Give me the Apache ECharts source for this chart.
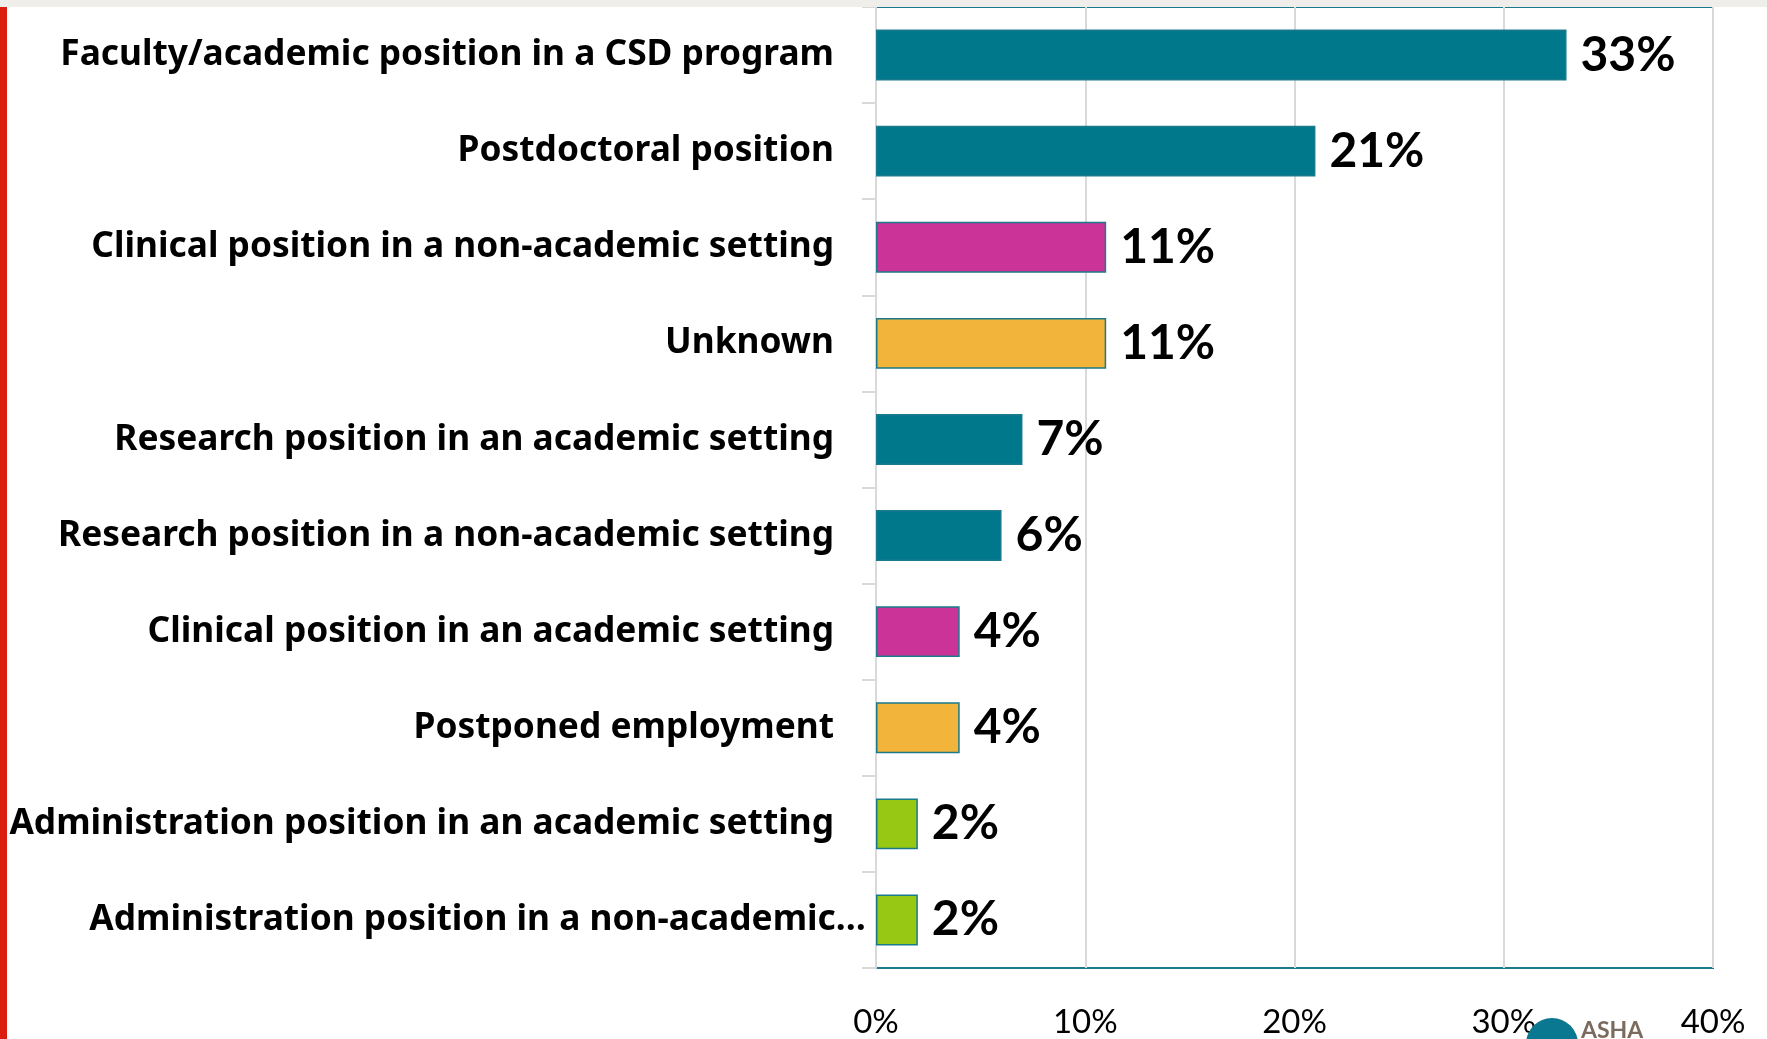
<!DOCTYPE html>
<html>
<head>
<meta charset="utf-8">
<script src="https://cdn.jsdelivr.net/npm/echarts@6/dist/echarts.min.js"></script>
<style>
  html, body { margin: 0; padding: 0; background: #fff; }
  #chart { width: 1767px; height: 1039px; }
</style>
</head>
<body>
<div id="chart"></div>
<script>
// categories, top to bottom
const categories = [
  "Faculty/academic position in a CSD program",
  "Postdoctoral position",
  "Clinical position in a non-academic setting",
  "Unknown",
  "Research position in an academic setting",
  "Research position in a non-academic setting",
  "Clinical position in an academic setting",
  "Postponed employment",
  "Administration position in an academic setting",
  "Administration position in a non-academic\u2026"
];
// percent of respondents
const values = [33, 21, 11, 11, 7, 6, 4, 4, 2, 2];
const xTicks = [0, 10, 20, 30, 40];

// bar fill per row
const teal = "#00788c", pink = "#cc3399", gold = "#f2b43a", green = "#97c813";
const barColors = [teal, teal, pink, gold, teal, teal, pink, gold, green, green];

const chart = echarts.init(document.getElementById("chart"));

// the truncated last label runs a bit past the others in the original
const yData = categories.map((c, i) =>
  i === categories.length - 1
    ? { value: c, textStyle: { padding: [0, -32, 4, 0] } }
    : c
);

const option = {
  backgroundColor: "#fff",
  animation: false,
  grid: {
    left: 876,
    right: 54,
    top: 7,
    bottom: 66,
    show: true,
    borderColor: "#1a7a8c",
    borderWidth: 2,
    backgroundColor: "transparent"
  },
  xAxis: {
    type: "value",
    min: xTicks[0],
    max: xTicks[xTicks.length - 1],
    interval: 10,
    axisLine: { show: false },
    axisTick: { show: false },
    splitLine: { lineStyle: { color: "#d9d9d9", width: 2 } },
    axisLabel: {
      formatter: "{value}%",
      fontFamily: "Lato",
      fontSize: 33,
      color: "#000",
      margin: 38
    }
  },
  yAxis: {
    type: "category",
    inverse: true,
    data: yData,
    axisLine: { show: true, lineStyle: { color: "#d9d9d9", width: 2 } },
    axisTick: { show: true, length: 14, interval: 0, lineStyle: { color: "#d9d9d9", width: 2 } },
    axisLabel: {
      fontFamily: "Noto Sans",
      fontWeight: "bold",
      fontSize: 35.3,
      color: "#000",
      margin: 42,
      padding: [0, 0, 4, 0]
    }
  },
  series: [{
    type: "bar",
    data: values.map((v, i) => ({ value: v, itemStyle: { color: barColors[i] } })),
    barCategoryGap: "47%",
    itemStyle: { borderColor: "#1a7a8c", borderWidth: 1.5 },
    label: {
      show: true,
      position: "right",
      distance: 14,
      formatter: "{c}%",
      fontFamily: "Lato",
      fontWeight: "bold",
      fontSize: 48,
      color: "#000"
    }
  }],
  graphic: [
    { type: "rect", left: 0, top: 0, shape: { width: 1767, height: 7 }, style: { fill: "#efeeea" }, z: 10 },
    { type: "rect", left: 0, top: 7, shape: { width: 7, height: 1032 }, style: { fill: "#da1f10" }, z: 10 },
    { type: "circle", shape: { cx: 1552, cy: 1044, r: 26 }, style: { fill: "#0a7890" }, z: 10 },
    { type: "text", left: 1581, top: 1019, style: { text: "ASHA", fill: "#7b6a5e", font: "bold 23px Lato" }, z: 10 }
  ]
};

chart.setOption(option);
</script>
</body>
</html>
